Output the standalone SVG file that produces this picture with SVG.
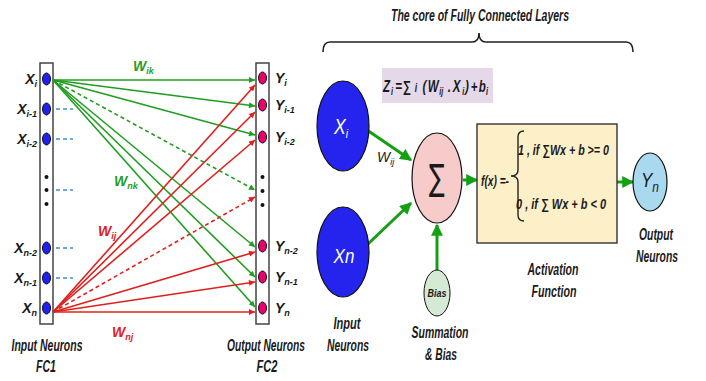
<svg xmlns="http://www.w3.org/2000/svg" width="706" height="381" viewBox="0 0 706 381">
<style>
text{font-family:"Liberation Sans",Arial,sans-serif;font-style:italic;font-weight:bold;fill:#1a1a1a}
.lbl{font-size:14px}
.cap{font-size:16px;text-anchor:middle}
.sub{font-size:9px}
.g{stroke:#1f9e1f;stroke-width:1.6;fill:none}
.r{stroke:#e0201c;stroke-width:1.6;fill:none}
.d{stroke-dasharray:4 3}
.bd{stroke:#3a8fd6;stroke-width:1.6;stroke-dasharray:4 3}
.in{fill:#2020f0;stroke:#111;stroke-width:1}
.out{fill:#e8006e;stroke:#111;stroke-width:1}
.col{fill:#fff;stroke:#444;stroke-width:1.5}
.G{stroke:#13a013;stroke-width:3;fill:none}
</style>
<defs>
<marker id="ag" viewBox="0 0 10 10" refX="10" refY="5" markerWidth="7" markerHeight="6" markerUnits="userSpaceOnUse" orient="auto"><path d="M0,0L10,5L0,10z" fill="#1f9e1f"/></marker>
<marker id="ar" viewBox="0 0 10 10" refX="10" refY="5" markerWidth="7" markerHeight="6" markerUnits="userSpaceOnUse" orient="auto"><path d="M0,0L10,5L0,10z" fill="#e0201c"/></marker>
<marker id="aG" viewBox="0 0 10 10" refX="9" refY="5" markerWidth="12" markerHeight="12" markerUnits="userSpaceOnUse" orient="auto"><path d="M0,0L10,5L0,10z" fill="#13a013"/></marker>
</defs>

<g id="fc1">
<rect class="col" x="40" y="63" width="13" height="261"/>
<ellipse class="in" cx="46.5" cy="79" rx="4" ry="6"/>
<ellipse class="in" cx="46.5" cy="109" rx="4" ry="6"/>
<ellipse class="in" cx="46.5" cy="139" rx="4" ry="6"/>
<circle cx="46.5" cy="177" r="2" fill="#111"/>
<circle cx="46.5" cy="190" r="2" fill="#111"/>
<circle cx="46.5" cy="204" r="2" fill="#111"/>
<ellipse class="in" cx="46.5" cy="248" rx="4" ry="6"/>
<ellipse class="in" cx="46.5" cy="278" rx="4" ry="6"/>
<ellipse class="in" cx="46.5" cy="308" rx="4" ry="6"/>
<g text-anchor="end" class="lbl">
<text x="37" y="84">X<tspan class="sub" dy="3">i</tspan></text>
<text x="37" y="114">X<tspan class="sub" dy="3">i-1</tspan></text>
<text x="37" y="144">X<tspan class="sub" dy="3">i-2</tspan></text>
<text x="37" y="253">X<tspan class="sub" dy="3">n-2</tspan></text>
<text x="37" y="283">X<tspan class="sub" dy="3">n-1</tspan></text>
<text x="37" y="313">X<tspan class="sub" dy="3">n</tspan></text>
</g>
<text class="cap" transform="translate(47,351) scale(0.655,1)">Input Neurons</text>
<text class="cap" x="46" y="372" textLength="20" lengthAdjust="spacingAndGlyphs">FC1</text>
</g>

<g id="fc2">
<rect class="col" x="256" y="63" width="13" height="261"/>
<ellipse class="out" cx="262.5" cy="78" rx="4" ry="6"/>
<ellipse class="out" cx="262.5" cy="105" rx="4" ry="6"/>
<ellipse class="out" cx="262.5" cy="137" rx="4" ry="6"/>
<circle cx="262.5" cy="177" r="2" fill="#111"/>
<circle cx="262.5" cy="191" r="2" fill="#111"/>
<circle cx="262.5" cy="205" r="2" fill="#111"/>
<ellipse class="out" cx="262.5" cy="246" rx="4" ry="6"/>
<ellipse class="out" cx="262.5" cy="277" rx="4" ry="6"/>
<ellipse class="out" cx="262.5" cy="308" rx="4" ry="6"/>
<g class="lbl">
<text x="275" y="83">Y<tspan class="sub" dy="3">i</tspan></text>
<text x="275" y="110">Y<tspan class="sub" dy="3">i-1</tspan></text>
<text x="275" y="142">Y<tspan class="sub" dy="3">i-2</tspan></text>
<text x="275" y="251">Y<tspan class="sub" dy="3">n-2</tspan></text>
<text x="275" y="282">Y<tspan class="sub" dy="3">n-1</tspan></text>
<text x="275" y="313">Y<tspan class="sub" dy="3">n</tspan></text>
</g>
<text class="cap" transform="translate(266,351) scale(0.64,1)">Output Neurons</text>
<text class="cap" x="267" y="372" textLength="21" lengthAdjust="spacingAndGlyphs">FC2</text>
</g>

<g id="connectors">
<line class="bd" x1="56" y1="109" x2="73" y2="109"/>
<line class="bd" x1="56" y1="139" x2="73" y2="139"/>
<line class="bd" x1="56" y1="190" x2="73" y2="190"/>
<line class="bd" x1="56" y1="248" x2="73" y2="248"/>
<line class="bd" x1="56" y1="278" x2="73" y2="278"/>
<g marker-end="url(#ag)">
<line class="g" x1="53" y1="80" x2="255" y2="80"/>
<line class="g" x1="53" y1="80" x2="255" y2="106"/>
<line class="g" x1="53" y1="80" x2="255" y2="135"/>
<line class="g d" x1="53" y1="80" x2="255" y2="190"/>
<line class="g" x1="53" y1="80" x2="255" y2="247"/>
<line class="g" x1="53" y1="80" x2="255" y2="277"/>
<line class="g" x1="53" y1="80" x2="255" y2="307"/>
</g>
<g marker-end="url(#ar)">
<line class="r" x1="53" y1="312" x2="255" y2="85"/>
<line class="r" x1="53" y1="312" x2="255" y2="112"/>
<line class="r" x1="53" y1="312" x2="255" y2="140"/>
<line class="r d" x1="53" y1="312" x2="255" y2="197"/>
<line class="r" x1="53" y1="312" x2="255" y2="252"/>
<line class="r" x1="53" y1="312" x2="255" y2="282"/>
<line class="r" x1="53" y1="312" x2="255" y2="312"/>
</g>
<g class="G" marker-end="url(#aG)">
<line x1="367" y1="130" x2="411" y2="160"/>
<line x1="368" y1="244" x2="411" y2="203"/>
<line x1="463" y1="180" x2="477" y2="180"/>
<line x1="617" y1="182" x2="633" y2="182"/>
<line x1="437" y1="270" x2="437" y2="225"/>
</g>
</g>

<g id="weights" class="lbl">
<text x="133" y="71" style="fill:#1f9e1f">W<tspan class="sub" dy="3">ik</tspan></text>
<text x="114" y="186" style="fill:#1f9e1f">W<tspan class="sub" dy="3">nk</tspan></text>
<text x="98" y="236" style="fill:#e0201c">W<tspan class="sub" dy="3">ij</tspan></text>
<text x="112" y="337" style="fill:#e0201c">W<tspan class="sub" dy="3">nj</tspan></text>
</g>

<text x="480" y="21" text-anchor="middle" font-size="16" textLength="178" lengthAdjust="spacingAndGlyphs">The core of Fully Connected Layers</text>
<path d="M323,52 Q323,42 330,42 L472,42 Q479,42 479,33 Q479,42 486,42 L626,42 Q633,42 633,52" fill="none" stroke="#222" stroke-width="1.6"/>

<g id="formula">
<rect x="382" y="68" width="111" height="35" fill="#e4d8e9"/>
<g transform="translate(383,92) scale(0.72,1)" font-size="16">
<text x="0" y="0">Z</text>
<text x="11" y="3" font-size="10">i</text>
<text x="17" y="0">=</text>
<text x="27" y="0">∑</text>
<text x="44" y="0" font-size="12">i</text>
<text x="55" y="0">(</text>
<text x="62" y="0">W</text>
<text x="78" y="3" font-size="10">ij</text>
<text x="90" y="0">.</text>
<text x="97" y="0">X</text>
<text x="110" y="3" font-size="10">i</text>
<text x="114" y="0">)</text>
<text x="122" y="0">+</text>
<text x="133" y="0">b</text>
<text x="143" y="3" font-size="10">i</text>
</g>
</g>

<g id="xi">
<ellipse cx="343" cy="126" rx="26" ry="45" fill="#2424ee" stroke="#111" stroke-width="1.2"/>
<text transform="translate(334,134) scale(0.8,1)" font-size="22" style="fill:#fff;font-weight:normal">X<tspan font-size="13" dy="4">i</tspan></text>
</g>
<g id="xn">
<ellipse cx="343" cy="252" rx="26" ry="45" fill="#2424ee" stroke="#111" stroke-width="1.2"/>
<text transform="translate(344,263) scale(0.85,1)" font-size="20" text-anchor="middle" style="fill:#fff;font-weight:normal">Xn</text>
</g>
<text class="lbl" x="377" y="162" style="font-weight:normal">W<tspan class="sub" dy="3">ij</tspan></text>
<text class="cap" x="347" y="329" textLength="27" lengthAdjust="spacingAndGlyphs">Input</text>
<text class="cap" x="348" y="351" textLength="42" lengthAdjust="spacingAndGlyphs">Neurons</text>

<g id="sum">
<ellipse cx="437" cy="178" rx="25" ry="45" fill="#f6cbca" stroke="#111" stroke-width="1.2"/>
<text x="437" y="190" font-size="36" text-anchor="middle" style="font-style:normal;font-weight:normal;font-family:'DejaVu Sans',sans-serif" transform="translate(437 0) scale(0.65 1) translate(-437 0)">∑</text>
</g>

<g id="bias">
<ellipse cx="437" cy="293" rx="13" ry="23" fill="#d6e9d5" stroke="#111" stroke-width="1"/>
<text x="437" y="297" font-size="11" text-anchor="middle" textLength="19" lengthAdjust="spacingAndGlyphs">Bias</text>
</g>
<text class="cap" x="440" y="338" textLength="57" lengthAdjust="spacingAndGlyphs">Summation</text>
<text class="cap" x="441" y="360" textLength="32" lengthAdjust="spacingAndGlyphs">&amp; Bias</text>

<g id="activation">
<rect x="477" y="124" width="140" height="119" fill="#fdf0c9" stroke="#333" stroke-width="1.4"/>
<text x="481" y="186" font-size="14" textLength="28" lengthAdjust="spacingAndGlyphs">f(x) =-</text>
<path d="M524,131 Q518,131 518,137 L518,170 Q518,176 511,176 Q518,176 518,182 L518,215 Q518,221 524,221" fill="none" stroke="#222" stroke-width="1.4"/>
<text x="518" y="155" font-size="15" textLength="91" lengthAdjust="spacingAndGlyphs">1 , if ∑Wx + b &gt;= 0</text>
<text x="516" y="209" font-size="15" textLength="90" lengthAdjust="spacingAndGlyphs">0 , if ∑ Wx + b &lt; 0</text>
</g>
<text class="cap" x="553" y="275" textLength="51" lengthAdjust="spacingAndGlyphs">Activation</text>
<text class="cap" x="554" y="297" textLength="45" lengthAdjust="spacingAndGlyphs">Function</text>

<g id="yn">
<ellipse cx="650" cy="182" rx="17" ry="29" fill="#a9d9ef" stroke="#111" stroke-width="1.2"/>
<text transform="translate(641,187) scale(0.85,1)" font-size="20" style="font-weight:normal">Y<tspan font-size="14" dy="5">n</tspan></text>
</g>
<text class="cap" x="656" y="240" textLength="34" lengthAdjust="spacingAndGlyphs">Output</text>
<text class="cap" x="657" y="262" textLength="42" lengthAdjust="spacingAndGlyphs">Neurons</text>
</svg>
